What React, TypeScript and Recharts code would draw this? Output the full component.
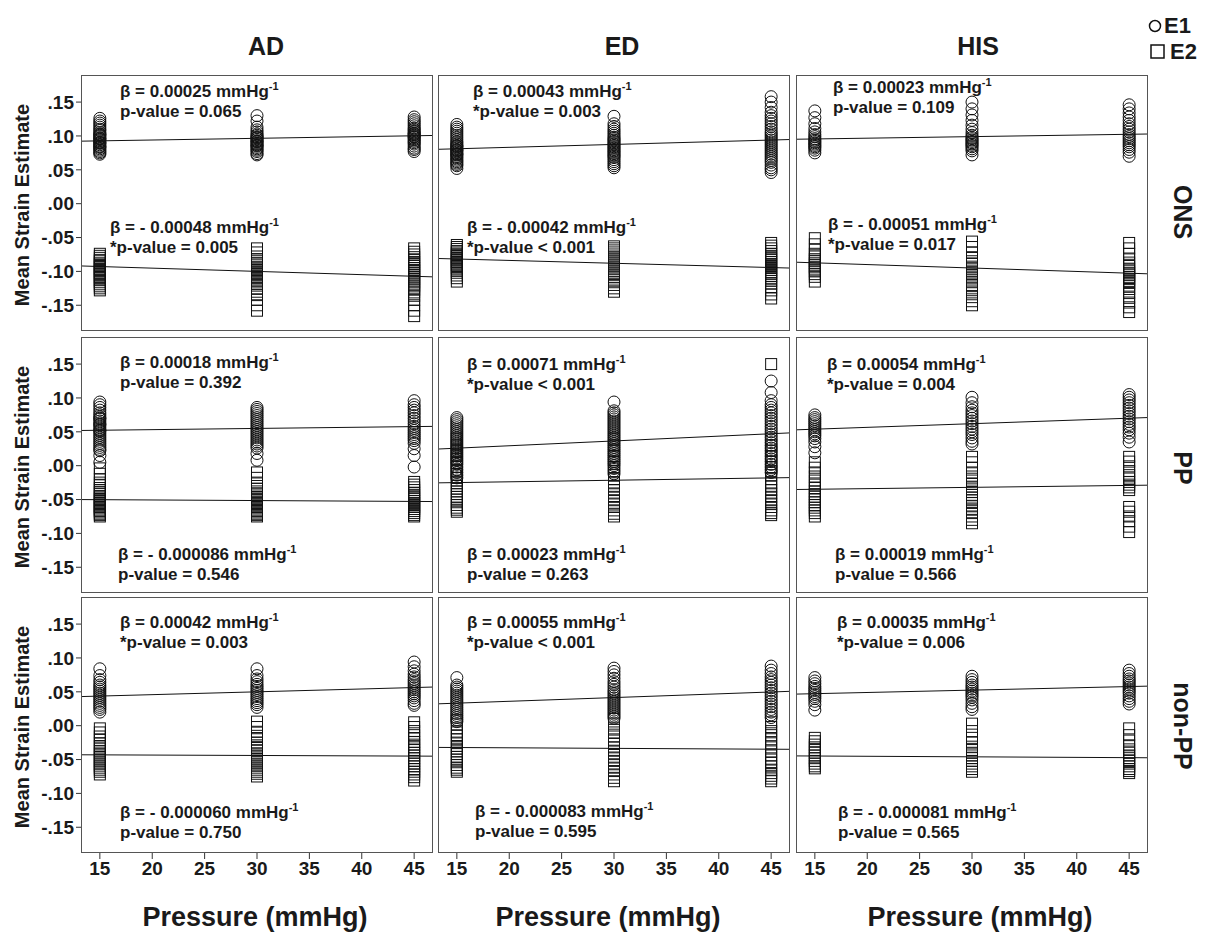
// Mean strain estimate vs pressure, 3x3 panels (region x population)

import { ScatterChart, Scatter, XAxis, YAxis, ReferenceLine } from 'recharts';

const pressures = [15, 30, 45];
const columns = ['AD', 'ED', 'HIS'];
const rows = ['ONS', 'PP', 'non-PP'];
const xTicks = [15, 20, 25, 30, 35, 40, 45];
const yTicks = [0.15, 0.1, 0.05, 0, -0.05, -0.1, -0.15];

// values per pressure level (15, 30, 45)
const AD_ONS_E1 = [
  [.126, .122, .119, .116, .113, .110, .108, .105, .103, .101, .099, .097, .095, .093, .091, .089, .087, .085, .083, .081, .079, .077, .075, .073, .102, .096, .090, .084],
  [.130, .122, .113, .109, .106, .103, .101, .099, .097, .095, .093, .091, .089, .087, .085, .083, .081, .079, .077, .074, .072, .098, .092, .086],
  [.128, .124, .121, .118, .115, .112, .110, .108, .106, .104, .102, .100, .098, .096, .094, .092, .090, .088, .085, .082, .080, .077, .103, .099],
];
const AD_ONS_E2 = [
  [-.074, -.077, -.080, -.083, -.085, -.088, -.090, -.092, -.094, -.096, -.098, -.100, -.102, -.104, -.106, -.108, -.110, -.113, -.116, -.119, -.122, -.125, -.128],
  [-.066, -.072, -.078, -.082, -.085, -.088, -.091, -.094, -.096, -.098, -.100, -.102, -.104, -.106, -.108, -.110, -.112, -.115, -.118, -.121, -.125, -.130, -.135, -.142, -.150, -.158],
  [-.066, -.071, -.075, -.079, -.083, -.086, -.089, -.092, -.095, -.098, -.100, -.103, -.106, -.109, -.112, -.115, -.118, -.121, -.124, -.127, -.131, -.136, -.142, -.150, -.158, -.166],
];
const ED_ONS_E1 = [
  [.117, .113, .110, .107, .104, .101, .098, .095, .092, .090, .088, .086, .084, .082, .080, .078, .076, .074, .072, .070, .068, .066, .064, .062, .060, .058, .056, .052, .079, .085, .073],
  [.129, .118, .114, .110, .107, .104, .101, .098, .096, .094, .092, .090, .088, .086, .084, .082, .080, .078, .076, .074, .072, .070, .068, .065, .062, .059, .056, .053],
  [.158, .150, .142, .135, .130, .126, .122, .118, .114, .110, .106, .103, .100, .097, .094, .091, .088, .085, .082, .079, .076, .073, .070, .067, .064, .061, .057, .053, .050, .046],
];
const ED_ONS_E2 = [
  [-.061, -.064, -.067, -.070, -.072, -.074, -.076, -.078, -.080, -.082, -.084, -.086, -.088, -.090, -.092, -.094, -.096, -.099, -.102, -.106, -.110, -.115],
  [-.063, -.066, -.069, -.072, -.075, -.078, -.081, -.084, -.087, -.090, -.093, -.096, -.099, -.102, -.105, -.108, -.112, -.116, -.120, -.125, -.130],
  [-.058, -.062, -.066, -.070, -.074, -.077, -.080, -.083, -.086, -.089, -.092, -.095, -.098, -.101, -.104, -.107, -.110, -.114, -.118, -.123, -.128, -.134, -.140],
];
const HIS_ONS_E1 = [
  [.137, .127, .118, .111, .106, .102, .099, .096, .094, .092, .090, .088, .086, .084, .082, .079, .075],
  [.150, .140, .131, .123, .116, .110, .105, .101, .098, .096, .094, .092, .090, .088, .086, .084, .081, .078, .072],
  [.146, .140, .134, .128, .123, .118, .114, .110, .106, .102, .099, .096, .093, .090, .087, .084, .080, .076, .070],
];
const HIS_ONS_E2 = [
  [-.051, -.060, -.068, -.074, -.078, -.082, -.085, -.088, -.091, -.094, -.097, -.100, -.104, -.108, -.115],
  [-.056, -.064, -.072, -.079, -.085, -.089, -.093, -.097, -.100, -.103, -.106, -.109, -.112, -.116, -.120, -.125, -.131, -.138, -.144, -.150],
  [-.058, -.066, -.074, -.081, -.087, -.092, -.096, -.099, -.102, -.105, -.108, -.111, -.114, -.117, -.121, -.126, -.132, -.139, -.146, -.153, -.160],
];
const AD_PP_E1 = [
  [.094, .090, .086, .082, .078, .075, .072, .069, .066, .063, .060, .057, .054, .051, .048, .045, .042, .039, .036, .033, .030, .027, .024, .022, .015, .005, .070, .061, .052],
  [.086, .083, .080, .077, .074, .071, .068, .065, .062, .059, .056, .053, .050, .047, .044, .041, .038, .035, .032, .029, .026, .018, .008],
  [.096, .090, .086, .082, .078, .074, .070, .066, .062, .058, .055, .052, .049, .046, .043, .040, .037, .033, .025, .015, -.002],
];
const AD_PP_E2 = [
  [-.004, -.012, -.020, -.025, -.029, -.033, -.036, -.039, -.042, -.045, -.047, -.049, -.051, -.053, -.055, -.057, -.059, -.061, -.063, -.065, -.067, -.069, -.071, -.073, -.075],
  [-.010, -.018, -.025, -.030, -.034, -.038, -.041, -.044, -.047, -.049, -.051, -.053, -.055, -.057, -.059, -.061, -.063, -.065, -.067, -.069, -.071, -.073, -.075],
  [-.024, -.028, -.032, -.036, -.040, -.043, -.046, -.049, -.052, -.055, -.058, -.061, -.064, -.067, -.070, -.073, -.075],
];
const ED_PP_E1 = [
  [.071, .068, .065, .062, .059, .056, .053, .050, .047, .044, .041, .038, .035, .032, .029, .026, .023, .020, .017, .014, .011, .008, .005, .002, -.002, -.006, -.010, -.014, -.018],
  [.094, .081, .078, .075, .072, .069, .066, .063, .060, .057, .054, .051, .048, .045, .042, .039, .036, .033, .030, .027, .024, .021, .018, .015, .012, .009, .006, .003, .000, -.004, -.008, -.012],
  [.125, .108, .096, .090, .086, .082, .078, .074, .070, .066, .062, .058, .054, .050, .046, .042, .038, .034, .030, .026, .022, .018, .014, .010, .006, .002, -.002, -.006, -.010],
];
const ED_PP_E2 = [
  [.040, .030, .022, .016, .010, .004, -.002, -.008, -.013, -.018, -.022, -.026, -.030, -.034, -.038, -.042, -.046, -.050, -.054, -.058, -.062, -.065, -.068],
  [.040, .030, .022, .014, .006, -.002, -.008, -.014, -.020, -.026, -.031, -.036, -.041, -.046, -.051, -.056, -.061, -.066, -.071, -.075],
  [.150, .030, .022, .014, .006, -.002, -.008, -.014, -.020, -.026, -.031, -.036, -.041, -.046, -.051, -.056, -.061, -.066, -.070, -.073],
];
const HIS_PP_E1 = [
  [.075, .071, .068, .065, .062, .059, .056, .053, .050, .047, .044, .040, .035, .028, .019],
  [.101, .093, .087, .082, .078, .074, .070, .066, .062, .058, .054, .050, .046, .041, .036, .032],
  [.105, .101, .097, .093, .089, .085, .081, .077, .073, .069, .065, .061, .057, .053, .048, .042, .035],
];
const HIS_PP_E2 = [
  [.005, -.003, -.010, -.016, -.022, -.028, -.033, -.038, -.042, -.046, -.050, -.054, -.058, -.062, -.066, -.070, -.075],
  [.013, .005, -.003, -.010, -.016, -.022, -.027, -.031, -.035, -.039, -.043, -.047, -.051, -.055, -.060, -.065, -.070, -.075, -.080, -.085],
  [.013, .006, -.001, -.008, -.014, -.019, -.024, -.028, -.032, -.036, -.061, -.068, -.075, -.082, -.090, -.098],
];
const AD_NPP_E1 = [
  [.084, .074, .068, .064, .060, .057, .054, .051, .048, .045, .042, .039, .036, .033, .030, .027, .024, .020],
  [.084, .074, .069, .065, .061, .058, .055, .052, .049, .046, .043, .040, .037, .034, .031, .027],
  [.094, .087, .081, .076, .072, .068, .065, .062, .059, .056, .053, .050, .047, .044, .041, .037, .033, .030],
];
const AD_NPP_E2 = [
  [-.004, -.010, -.016, -.021, -.026, -.030, -.034, -.038, -.041, -.044, -.047, -.050, -.053, -.056, -.059, -.062, -.065, -.068, -.072],
  [.006, -.002, -.009, -.015, -.020, -.025, -.029, -.033, -.037, -.041, -.044, -.047, -.050, -.053, -.056, -.059, -.062, -.065, -.068, -.071, -.075],
  [.005, -.002, -.008, -.014, -.019, -.024, -.028, -.032, -.036, -.040, -.044, -.048, -.052, -.056, -.060, -.064, -.068, -.072, -.076, -.081],
];
const ED_NPP_E1 = [
  [.071, .060, .057, .054, .051, .048, .045, .042, .039, .036, .033, .030, .027, .024, .021, .018, .015, .012, .009, .006],
  [.085, .080, .075, .070, .065, .061, .057, .053, .050, .047, .044, .041, .038, .035, .032, .029, .026, .023, .020, .017, .014, .011],
  [.088, .082, .077, .072, .068, .064, .060, .056, .052, .048, .044, .040, .036, .032, .028, .024, .020, .016, .012],
];
const ED_NPP_E2 = [
  [.008, .002, -.004, -.010, -.015, -.020, -.025, -.030, -.034, -.038, -.042, -.046, -.050, -.054, -.058, -.062, -.065, -.068],
  [.010, .003, -.004, -.010, -.016, -.022, -.027, -.032, -.037, -.042, -.047, -.052, -.057, -.062, -.067, -.072, -.077, -.082],
  [.005, -.002, -.008, -.014, -.020, -.026, -.032, -.038, -.044, -.050, -.055, -.060, -.065, -.070, -.074, -.078, -.082],
];
const HIS_NPP_E1 = [
  [.071, .066, .062, .058, .055, .052, .049, .046, .043, .040, .036, .031, .023],
  [.073, .068, .064, .060, .057, .054, .051, .048, .045, .042, .038, .033, .028, .024],
  [.082, .077, .073, .069, .066, .063, .060, .057, .054, .051, .048, .044, .040, .036, .032],
];
const HIS_NPP_E2 = [
  [-.018, -.023, -.028, -.032, -.036, -.040, -.044, -.048, -.052, -.056, -.060, -.063],
  [.003, -.008, -.018, -.025, -.031, -.036, -.040, -.044, -.048, -.052, -.056, -.060, -.064, -.068],
  [-.004, -.014, -.022, -.029, -.035, -.040, -.044, -.048, -.052, -.056, -.060, -.064, -.067, -.070],
];

// regression: fitted value at 30 mmHg and slope (beta) per panel [row][col]
const fit30E1 = [[0.0965, 0.0875, 0.099], [0.055, 0.0365, 0.062], [0.05, 0.0415, 0.0525]];
const fit30E2 = [[-0.1, -0.088, -0.095], [-0.0515, -0.0215, -0.032], [-0.044, -0.0335, -0.046]];
const betaE1 = [[0.00025, 0.00043, 0.00023], [0.00018, 0.00071, 0.00054], [0.00042, 0.00055, 0.00035]];
const betaE2 = [[-0.00048, -0.00042, -0.00051], [-0.000086, 0.00023, 0.00019], [-0.00006, -0.000083, -0.000081]];

// annotation text per panel: [beta E1, p E1, beta E2, p E2]
const notes = [
  [
    ['β = 0.00025 mmHg', 'p-value = 0.065', 'β = - 0.00048 mmHg', '*p-value = 0.005'],
    ['β = 0.00043 mmHg', '*p-value = 0.003', 'β = - 0.00042 mmHg', '*p-value < 0.001'],
    ['β = 0.00023 mmHg', 'p-value = 0.109', 'β = - 0.00051 mmHg', '*p-value = 0.017'],
  ],
  [
    ['β = 0.00018 mmHg', 'p-value = 0.392', 'β =  - 0.000086 mmHg', 'p-value = 0.546'],
    ['β = 0.00071 mmHg', '*p-value < 0.001', 'β =  0.00023 mmHg', 'p-value = 0.263'],
    ['β = 0.00054 mmHg', '*p-value = 0.004', 'β =  0.00019 mmHg', 'p-value = 0.566'],
  ],
  [
    ['β = 0.00042 mmHg', '*p-value = 0.003', 'β = - 0.000060 mmHg', 'p-value = 0.750'],
    ['β = 0.00055 mmHg', '*p-value < 0.001', 'β = - 0.000083 mmHg', 'p-value = 0.595'],
    ['β = 0.00035 mmHg', '*p-value = 0.006', 'β = - 0.000081 mmHg', 'p-value = 0.565'],
  ],
];

const panels = [
  [[AD_ONS_E1, AD_ONS_E2], [ED_ONS_E1, ED_ONS_E2], [HIS_ONS_E1, HIS_ONS_E2]],
  [[AD_PP_E1, AD_PP_E2], [ED_PP_E1, ED_PP_E2], [HIS_PP_E1, HIS_PP_E2]],
  [[AD_NPP_E1, AD_NPP_E2], [ED_NPP_E1, ED_NPP_E2], [HIS_NPP_E1, HIS_NPP_E2]],
];

// layout
const FONT = '"Liberation Sans", Arial, sans-serif';
const PW = 352;
const PH = 256;
const colLeft = [81, 438, 796];
const rowTop = [75, 337, 597];
const YW = 70;
const XH = 40;
const X_DOMAIN: [number, number] = [13.2, 46.8];
const Y_DOMAIN: [number, number] = [-0.188, 0.19];
// note positions (offset from panel corner, baselines): [x1, y1, x2, y2]
const notePos = [
  [[39, 22, 29, 158], [35, 22, 29, 158], [37, 18, 32, 155]],
  [[39, 31, 37, 223], [29, 33, 29, 223], [31, 33, 39, 223]],
  [[39, 31, 39, 221], [29, 31, 37, 220], [41, 31, 42, 221]],
];
const colTitleX = [266, 622, 978];
const rowLabelY = [212, 468, 726];
const xTitleX = [255, 608, 980];

const toPoints = (groups: number[][]) =>
  pressures.flatMap((p, i) => groups[i].map((v) => ({ x: p, y: v })));

const fmtY = (v: number) => (v < 0 ? '-' : '') + Math.abs(v).toFixed(2).replace(/^0/, '');

const Circle = (props: any) => (
  <circle cx={props.cx} cy={props.cy} r={6} fill="none" stroke="#111" strokeWidth={1} />
);
const Square = (props: any) => (
  <rect x={props.cx - 5.5} y={props.cy - 5.5} width={11} height={11} fill="none" stroke="#111" strokeWidth={1} />
);

function Panel({ r, c }: { r: number; c: number }) {
  const [e1, e2] = panels[r][c];
  const withY = c === 0;
  const withX = r === 2;
  const seg = (fit: number, beta: number) =>
    X_DOMAIN.map((x) => ({ x, y: fit + beta * (x - 30) }));
  const tickStyle = { fontSize: 19, fontWeight: 'bold', fill: '#1a1a1a', fontFamily: FONT };
  return (
    <div style={{ position: 'absolute', left: colLeft[c] - (withY ? YW : 0), top: rowTop[r] }}>
      <ScatterChart
        width={PW + (withY ? YW : 0)}
        height={PH + (withX ? XH : 0)}
        margin={{ top: 0, right: 0, bottom: 0, left: 0 }}
      >
        <XAxis
          type="number"
          dataKey="x"
          domain={X_DOMAIN}
          ticks={xTicks}
          hide={!withX}
          height={XH}
          axisLine={false}
          tickSize={6}
          tickMargin={3}
          tickLine={{ stroke: '#333' }}
          tick={tickStyle}
          allowDataOverflow
        />
        <YAxis
          type="number"
          dataKey="y"
          domain={Y_DOMAIN}
          ticks={yTicks}
          hide={!withY}
          width={YW}
          axisLine={false}
          tickSize={5}
          tickMargin={2}
          tickLine={{ stroke: '#333' }}
          tick={tickStyle}
          tickFormatter={fmtY}
          allowDataOverflow
        />
        <ReferenceLine segment={seg(fit30E1[r][c], betaE1[r][c])} stroke="#111" strokeWidth={1} />
        <ReferenceLine segment={seg(fit30E2[r][c], betaE2[r][c])} stroke="#111" strokeWidth={1} />
        <Scatter data={toPoints(e1)} shape={Circle} isAnimationActive={false} />
        <Scatter data={toPoints(e2)} shape={Square} isAnimationActive={false} />
      </ScatterChart>
      <div
        style={{
          position: 'absolute',
          left: withY ? YW : 0,
          top: 0,
          width: PW,
          height: PH,
          border: '1.5px solid #555',
          boxSizing: 'border-box',
          pointerEvents: 'none',
        }}
      />
    </div>
  );
}

function Note({ x, y, beta, p }: { x: number; y: number; beta: string; p: string }) {
  return (
    <g fontSize={17} fontWeight="bold" fill="#1a1a1a" style={{ whiteSpace: 'pre' }}>
      <text x={x} y={y}>
        {beta}
        <tspan dy={-7} fontSize={11}>-1</tspan>
      </text>
      <text x={x} y={y + 20}>{p}</text>
    </g>
  );
}

export default function App() {
  return (
    <div style={{ position: 'absolute', left: 0, top: 0, width: 1207, height: 933, background: '#fff', fontFamily: FONT }}>
      {rows.map((_, r) => columns.map((__, c) => <Panel key={`${r}-${c}`} r={r} c={c} />))}
      <svg width={1207} height={933} style={{ position: 'absolute', left: 0, top: 0, pointerEvents: 'none' }} fontFamily={FONT}>
        {columns.map((t, c) => (
          <text key={t} x={colTitleX[c]} y={55} textAnchor="middle" fontSize={25} fontWeight="bold" fill="#1a1a1a">{t}</text>
        ))}
        {rows.map((t, r) => (
          <text key={t} x={1183} y={rowLabelY[r]} transform={`rotate(90 1183 ${rowLabelY[r]})`} textAnchor="middle" dominantBaseline="central" fontSize={25} fontWeight="bold" fill="#1a1a1a">{t}</text>
        ))}
        {rows.map((t, r) => (
          <text key={`y${t}`} x={22} y={rowTop[r] + 130} transform={`rotate(-90 22 ${rowTop[r] + 130})`} textAnchor="middle" dominantBaseline="central" fontSize={20} fontWeight="bold" fill="#1a1a1a">Mean Strain Estimate</text>
        ))}
        {columns.map((t, c) => (
          <text key={`x${t}`} x={xTitleX[c]} y={926} textAnchor="middle" fontSize={27} fontWeight="bold" fill="#1a1a1a">Pressure (mmHg)</text>
        ))}
        {notes.map((row, r) =>
          row.map((n, c) => {
            const [x1, y1, x2, y2] = notePos[r][c];
            return (
              <g key={`n${r}${c}`}>
                <Note x={colLeft[c] + x1} y={rowTop[r] + y1} beta={n[0]} p={n[1]} />
                <Note x={colLeft[c] + x2} y={rowTop[r] + y2} beta={n[2]} p={n[3]} />
              </g>
            );
          })
        )}
        <circle cx={1155} cy={26} r={5.5} fill="none" stroke="#111" strokeWidth={1.5} />
        <text x={1164} y={33} fontSize={22} fontWeight="bold" fill="#1a1a1a">E1</text>
        <rect x={1151} y={45} width={13} height={13} fill="none" stroke="#111" strokeWidth={1.5} />
        <text x={1170} y={59} fontSize={22} fontWeight="bold" fill="#1a1a1a">E2</text>
      </svg>
    </div>
  );
}
